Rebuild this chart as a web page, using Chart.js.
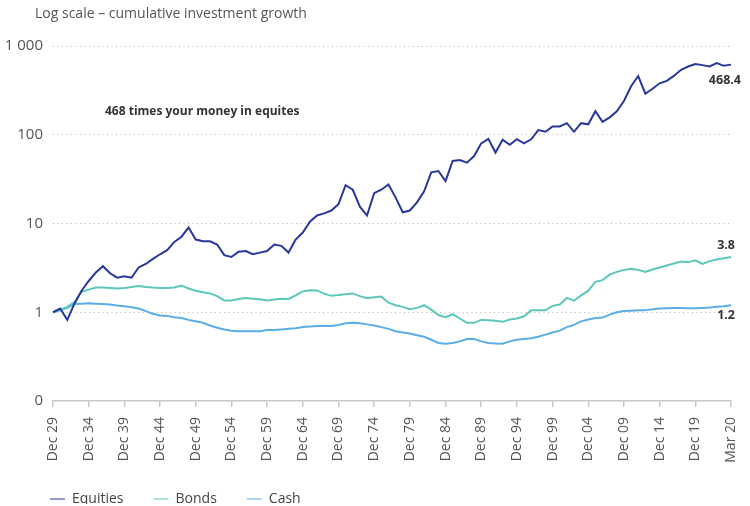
<!DOCTYPE html>
<html>
<head>
<meta charset="utf-8">
<script src="https://cdn.jsdelivr.net/npm/chart.js@4.4.1/dist/chart.umd.min.js"></script>
<style>
  html, body { margin: 0; padding: 0; background: #fff; }
  #wrap { width: 750px; height: 506px; position: relative; }
</style>
</head>
<body>
<div id="wrap"><canvas id="growthChart"></canvas></div>
<script>
// Tick labels on the x axis (one every 5 steps)
const tickLabels = ['Dec 29', 'Dec 34', 'Dec 39', 'Dec 44', 'Dec 49', 'Dec 54', 'Dec 59', 'Dec 64',
  'Dec 69', 'Dec 74', 'Dec 79', 'Dec 84', 'Dec 89', 'Dec 94', 'Dec 99', 'Dec 04', 'Dec 09',
  'Dec 14', 'Dec 19', 'Mar 20'];
const stepsPerTick = 5;

// Cumulative growth of 1 invested
const equities = [1.0, 1.1, 0.82, 1.25, 1.75, 2.25, 2.8, 3.3, 2.75, 2.45,
  2.55, 2.45, 3.2, 3.5, 4.0, 4.5, 5.0, 6.2, 7.1, 9.0,
  6.6, 6.3, 6.3, 5.8, 4.4, 4.2, 4.8, 4.9, 4.5, 4.7,
  4.9, 5.8, 5.6, 4.7, 6.6, 7.9, 10.5, 12.3, 13, 14,
  16.5, 27, 24, 15.5, 12.3, 22, 24, 27.5, 19.7, 13.4,
  14, 17.3, 23, 37.7, 39, 30, 50.7, 52, 48.5, 57.5,
  80, 90, 63, 88, 77, 89, 80, 89, 113, 108,
  124, 124, 135, 108, 135, 131, 184, 140, 157, 184,
  240, 352, 459, 290, 330, 380, 405, 460, 540, 588,
  625, 609, 588, 641, 598, 617];
const bonds = [1.0, 1.07, 1.15, 1.3, 1.7, 1.8, 1.9, 1.9, 1.88, 1.85,
  1.88, 1.93, 1.98, 1.93, 1.9, 1.88, 1.88, 1.9, 2.0, 1.85,
  1.75, 1.68, 1.63, 1.52, 1.36, 1.36, 1.41, 1.45, 1.42, 1.4,
  1.36, 1.39, 1.42, 1.41, 1.55, 1.72, 1.77, 1.76, 1.62, 1.53,
  1.56, 1.6, 1.63, 1.52, 1.44, 1.48, 1.5, 1.28, 1.2, 1.15,
  1.08, 1.12, 1.2, 1.07, 0.93, 0.88, 0.95, 0.85, 0.76, 0.76,
  0.82, 0.81, 0.8, 0.78, 0.83, 0.85, 0.9, 1.05, 1.05, 1.05,
  1.18, 1.22, 1.45, 1.35, 1.55, 1.75, 2.2, 2.3, 2.65, 2.85,
  3.0, 3.1, 3.0, 2.85, 3.03, 3.2, 3.37, 3.55, 3.72, 3.65,
  3.85, 3.5, 3.77, 3.93, 4.05, 4.2];
const cash = [1.0, 1.05, 1.12, 1.24, 1.25, 1.26, 1.25, 1.24, 1.22, 1.19,
  1.17, 1.14, 1.1, 1.03, 0.96, 0.92, 0.91, 0.88, 0.86, 0.82,
  0.79, 0.76, 0.71, 0.67, 0.64, 0.62, 0.61, 0.61, 0.61, 0.61,
  0.63, 0.63, 0.64, 0.65, 0.66, 0.68, 0.69, 0.7, 0.7, 0.7,
  0.72, 0.75, 0.76, 0.75, 0.73, 0.71, 0.68, 0.65, 0.61, 0.59,
  0.575, 0.55, 0.53, 0.49, 0.45, 0.443, 0.45, 0.47, 0.5, 0.5,
  0.47, 0.45, 0.445, 0.443, 0.47, 0.49, 0.5, 0.51, 0.53, 0.56,
  0.59, 0.62, 0.68, 0.72, 0.79, 0.83, 0.86, 0.87, 0.94, 1.0,
  1.03, 1.04, 1.05, 1.05, 1.08, 1.1, 1.11, 1.12, 1.12, 1.11,
  1.11, 1.12, 1.13, 1.15, 1.17, 1.2];

// Y axis ticks (log) and their labels; the bottom 0.1 is printed as 0
const yTicks = [0.1, 1, 10, 100, 1000];
const yTickText = ['0', '1', '10', '100', '1 000'];

const endLabels = ['468.4', '3.8', '1.2'];
const titleText = 'Log scale \u2013 cumulative investment growth';
const noteText = '468 times your money in equites';

// one category per step, only every 5th gets a name
const categories = equities.map((v, i) => i % stepsPerTick === 0 ? tickLabels[i / stepsPerTick] : '');

const FONT = "'Open Sans', Lato, sans-serif";
const colors = { eq: '#28389a', bo: '#5cc8b9', ca: '#5aade6' };

// Text drawn on top: title, note and end values
const notesPlugin = {
  id: 'notes',
  afterLayout(chart) {
    // move the legend to where the reference has it
    chart.legend.left += 20;
    chart.legend.right += 20;
    chart.legend.top -= 2;
    chart.legend.bottom -= 2;
  },
  afterDraw(chart) {
    const { ctx, scales: { x, y } } = chart;
    const last = categories.length - 1;
    const xr = x.getPixelForValue(last);
    ctx.save();
    ctx.textBaseline = 'middle';
    ctx.textAlign = 'left';
    ctx.fillStyle = '#555';
    ctx.font = '14px ' + FONT;
    ctx.fillText(titleText, 35, 14);

    ctx.fillStyle = '#333';
    ctx.font = 'bold 12px ' + FONT;
    ctx.fillText(noteText, 105, 112);

    ctx.font = 'bold 12.5px ' + FONT;
    ctx.textAlign = 'right';
    ctx.fillText(endLabels[0], xr + 10, y.getPixelForValue(equities[last]) + 16);
    ctx.fillText(endLabels[1], xr + 4, y.getPixelForValue(bonds[last]) - 11);
    ctx.fillText(endLabels[2], xr + 4, y.getPixelForValue(cash[last]) + 10);
    ctx.restore();
  }
};

function makeChart() {
  const ctx = document.getElementById('growthChart').getContext('2d');
  new Chart(ctx, {
    type: 'line',
    data: {
      labels: categories,
      datasets: [
        { label: 'Equities', data: equities, borderColor: colors.eq, backgroundColor: colors.eq },
        { label: 'Bonds', data: bonds, borderColor: colors.bo, backgroundColor: colors.bo },
        { label: 'Cash', data: cash, borderColor: colors.ca, backgroundColor: colors.ca }
      ]
    },
    options: {
      responsive: true,
      maintainAspectRatio: false,
      animation: false,
      layout: { padding: { top: 46, left: 0, right: 19, bottom: 0 } },
      elements: {
        line: { borderWidth: 2, tension: 0 },
        point: { radius: 0, hoverRadius: 0, pointStyle: 'line' }
      },
      plugins: {
        tooltip: { enabled: false },
        legend: {
          position: 'bottom',
          align: 'start',
          maxHeight: 42,
          labels: {
            usePointStyle: true,
            pointStyle: 'line',
            pointStyleWidth: 15,
            boxHeight: 2,
            padding: 30,
            color: '#444',
            font: { family: FONT, size: 14 }
          }
        }
      },
      scales: {
        x: {
          offset: false,
          afterBuildTicks: s => { s.ticks = s.ticks.filter(t => t.value % stepsPerTick === 0); },
          afterFit: s => { s.height = 63; s.paddingLeft = 0; s.paddingRight = 0; },
          grid: { drawOnChartArea: false, drawTicks: true, tickLength: 6, color: '#c8c8c8', lineWidth: 1.5 },
          border: { display: true, color: '#c8c8c8', width: 1.5 },
          ticks: {
            autoSkip: false,
            maxRotation: 90,
            minRotation: 90,
            padding: 10,
            color: '#555',
            font: { family: FONT, size: 14 },
            callback: function (value) { return this.getLabelForValue(value); }
          }
        },
        y: {
          type: 'logarithmic',
          min: 0.1,
          max: 1000,
          afterBuildTicks: s => { s.ticks = yTicks.map(v => ({ value: v })); },
          afterFit: s => { s.width = 53; },
          grid: {
            drawTicks: false,
            color: c => c.tick && c.tick.value === 0.1 ? 'rgba(0,0,0,0)' : '#b5b5b5',
            lineWidth: 1
          },
          border: { display: false, dash: [1, 3.5] },
          ticks: {
            padding: 10,
            color: '#555',
            font: { family: FONT, size: 15 },
            callback: value => yTickText[yTicks.indexOf(value)]
          }
        }
      }
    },
    plugins: [notesPlugin]
  });
}

window.onload = makeChart;
</script>
</body>
</html>
